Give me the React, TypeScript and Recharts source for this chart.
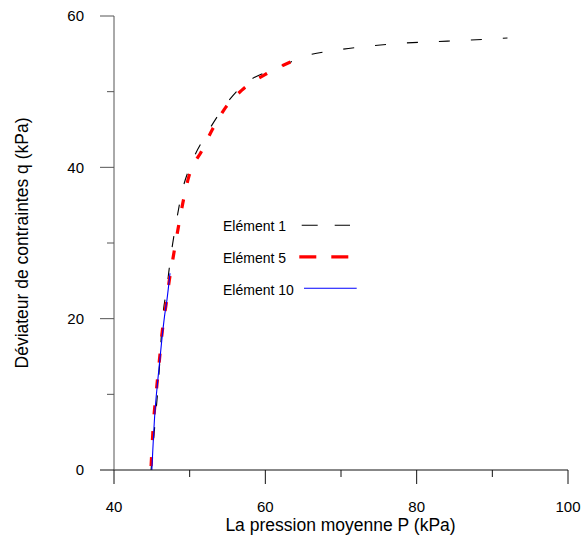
import React from "react";
import { Line, LineChart, XAxis, YAxis, Label } from "recharts";

// Elément 1
const p1 = [44.9, 45.4, 45.9, 46.4, 47.0, 47.5, 48.2, 49.0, 50.3, 52.3, 54.4, 57.1, 60.6, 63.3, 65.3, 69.5, 73.6, 78.0, 82.2, 86.7, 92.0];
const q1 = [0, 6, 12, 19.8, 24.2, 28.2, 32.6, 36.8, 40.7, 44.5, 47.8, 50.9, 52.8, 53.9, 54.7, 55.5, 56.0, 56.4, 56.6, 56.8, 57.1];

// Elément 5
const p5 = [44.9, 45.2, 45.6, 46.0, 46.4, 46.9, 47.3, 47.8, 48.4, 49.1, 49.9, 50.6, 51.5, 53.0, 54.6, 56.9, 60.2, 64.0];
const q5 = [0.5, 6, 10.5, 14.5, 18.5, 22, 25, 28, 31.5, 35.3, 38.8, 40.5, 42, 45, 47.7, 50.2, 52.4, 54.2];

// Elément 10
const p10 = [45.0, 45.4, 45.8, 46.3, 46.7, 47.0, 47.4];
const q10 = [0, 7.5, 12, 17, 20.5, 22.5, 26];

const xTicks = [40, 50, 60, 70, 80, 90, 100];
const yTicks = [0, 10, 20, 30, 40, 50, 60];
const xMajor = [40, 60, 80, 100];
const yMajor = [0, 20, 40, 60];

const toPoints = (p: number[], q: number[]) => p.map((x, i) => ({ p: x, q: q[i] }));

const series = [
  { name: "Elément 1", data: toPoints(p1, q1), color: "#000000", width: 1.1, dash: "11 21", legendDash: "16 17", lx1: 81.7, lx2: 130 },
  { name: "Elément 5", data: toPoints(p5, q5), color: "#ff0000", width: 3.2, dash: "9 17", legendDash: "17 15", lx1: 79.3, lx2: 130 },
  { name: "Elément 10", data: toPoints(p10, q10), color: "#0000ff", width: 1.1, dash: undefined, legendDash: undefined, lx1: 84, lx2: 136.7 },
];

const FONT = "'Liberation Sans', Arial, sans-serif";

const XTick = (props: any) => {
  const { x, y, payload } = props;
  const major = xMajor.includes(payload.value);
  return (
    <g>
      <line x1={x} x2={x} y1={y} y2={y + (major ? 14 : 7)} stroke="#111" strokeWidth={1} />
      {major && (
        <text x={x} y={y + 42} textAnchor="middle" fontSize={15} fontFamily={FONT} fill="#000">
          {payload.value}
        </text>
      )}
    </g>
  );
};

const YTick = (props: any) => {
  const { x, y, payload } = props;
  const major = yMajor.includes(payload.value);
  return (
    <g>
      <line x1={x - (major ? 14 : 7)} x2={x} y1={y} y2={y} stroke={payload.value === 0 ? "#111" : "#555"} strokeWidth={1} />
      {major && (
        <text x={x - 30} y={y + 5.4} textAnchor="end" fontSize={15} fontFamily={FONT} fill="#000">
          {payload.value}
        </text>
      )}
    </g>
  );
};

function ChartLegend() {
  return (
    <svg width={150} height={95} style={{ position: "absolute", left: 220, top: 210 }}>
      {series.map((s, i) => (
        <g key={s.name}>
          <text x={3} y={21 + i * 32} fontSize={14} fontFamily={FONT} fill="#000">
            {s.name}
          </text>
          <line
            x1={s.lx1}
            x2={s.lx2}
            y1={15.3 + i * 31.5}
            y2={15.3 + i * 31.5}
            stroke={s.color}
            strokeWidth={s.width}
            strokeDasharray={s.legendDash}
          />
        </g>
      ))}
    </svg>
  );
}

export default function App() {
  return (
    <div style={{ position: "absolute", left: 0, top: 0, width: 582, height: 537, background: "#fff" }}>
      <LineChart width={582} height={537} margin={{ top: 16, right: 14, left: 0, bottom: 0 }}>
        <XAxis
          dataKey="p"
          type="number"
          domain={[40, 100]}
          ticks={xTicks}
          interval={0}
          height={67}
          tickSize={0}
          tickMargin={0}
          tickLine={false}
          axisLine={{ stroke: "#111" }}
          tick={<XTick />}
          allowDataOverflow
        >
          <Label
            content={() => (
              <text x={340.5} y={530.5} textAnchor="middle" fontSize={17.5} fontFamily={FONT} fill="#000">
                La pression moyenne P (kPa)
              </text>
            )}
          />
        </XAxis>
        <YAxis
          dataKey="q"
          type="number"
          domain={[0, 60]}
          ticks={yTicks}
          interval={0}
          width={114}
          tickSize={0}
          tickMargin={0}
          tickLine={false}
          axisLine={{ stroke: "#555" }}
          tick={<YTick />}
          allowDataOverflow
        >
          <Label
            content={() => (
              <text
                x={28}
                y={243}
                transform="rotate(-90 28 243)"
                textAnchor="middle"
                fontSize={17.5}
                fontFamily={FONT}
                fill="#000"
              >
                Déviateur de contraintes q (kPa)
              </text>
            )}
          />
        </YAxis>
        {series.map((s) => (
          <Line
            key={s.name}
            data={s.data}
            dataKey="q"
            name={s.name}
            type="monotone"
            stroke={s.color}
            strokeWidth={s.width}
            strokeDasharray={s.dash}
            dot={false}
            activeDot={false}
            isAnimationActive={false}
          />
        ))}
      </LineChart>
      <ChartLegend />
    </div>
  );
}
